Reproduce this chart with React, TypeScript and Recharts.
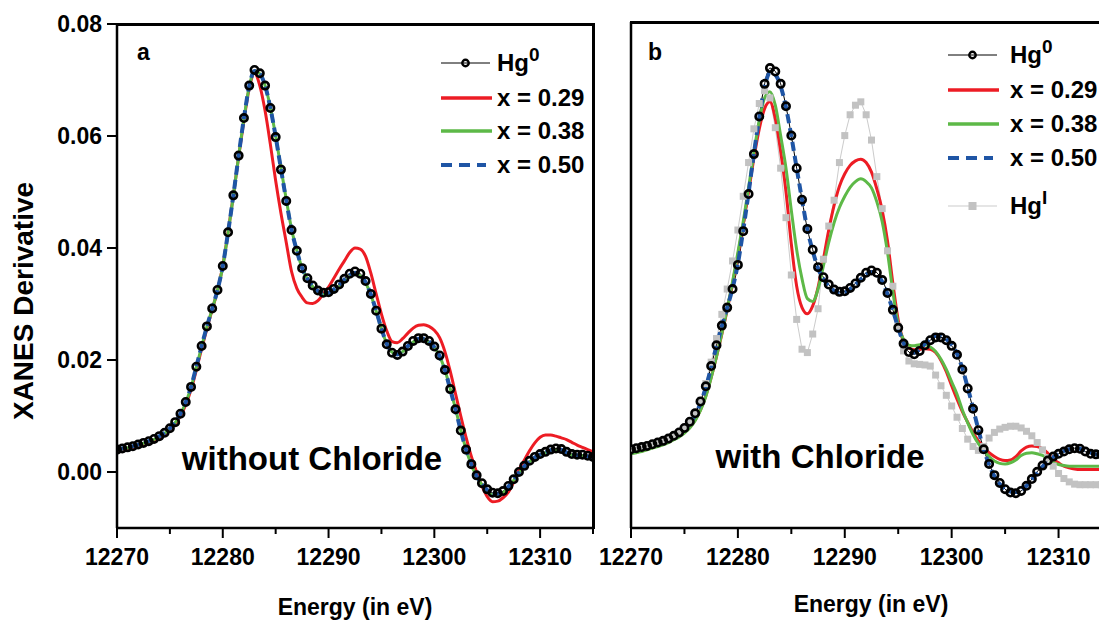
import { LineChart, Line, XAxis, YAxis, Customized } from 'recharts';

// energy grid (eV), 0.5 eV steps
const energy = [
  12270, 12270.5, 12271, 12271.5, 12272, 12272.5, 12273, 12273.5, 12274, 12274.5,
  12275, 12275.5, 12276, 12276.5, 12277, 12277.5, 12278, 12278.5, 12279, 12279.5,
  12280, 12280.5, 12281, 12281.5, 12282, 12282.5, 12283, 12283.5, 12284, 12284.5,
  12285, 12285.5, 12286, 12286.5, 12287, 12287.5, 12288, 12288.5, 12289, 12289.5,
  12290, 12290.5, 12291, 12291.5, 12292, 12292.5, 12293, 12293.5, 12294, 12294.5,
  12295, 12295.5, 12296, 12296.5, 12297, 12297.5, 12298, 12298.5, 12299, 12299.5,
  12300, 12300.5, 12301, 12301.5, 12302, 12302.5, 12303, 12303.5, 12304, 12304.5,
  12305, 12305.5, 12306, 12306.5, 12307, 12307.5, 12308, 12308.5, 12309, 12309.5,
  12310, 12310.5, 12311, 12311.5, 12312, 12312.5, 12313, 12313.5, 12314, 12314.5,
  12315,
];

// Hg0 reference spectrum (same in both panels)
const hg0 = [
  0.0040, 0.0042, 0.0044, 0.0046, 0.0049, 0.0052, 0.0055, 0.0059, 0.0064, 0.0070,
  0.0078, 0.0089, 0.0104, 0.0125, 0.0152, 0.0188, 0.0225, 0.0260, 0.0292, 0.0325,
  0.0368, 0.0428, 0.0494, 0.0565, 0.0632, 0.0690, 0.0718, 0.0712, 0.0690, 0.0650,
  0.0598, 0.0540, 0.0484, 0.0432, 0.0395, 0.0364, 0.0346, 0.0333, 0.0324, 0.0320,
  0.0321, 0.0327, 0.0335, 0.0345, 0.0354, 0.0358, 0.0354, 0.0341, 0.0318, 0.0288,
  0.0256, 0.0228, 0.0213, 0.0209, 0.0215, 0.0225, 0.0234, 0.0239, 0.0239, 0.0234,
  0.0224, 0.0208, 0.0182, 0.0148, 0.0112, 0.0074, 0.0040, 0.0014, -0.0006, -0.0020,
  -0.0031, -0.0037, -0.0038, -0.0034, -0.0025, -0.0013, 0.0000, 0.0011, 0.0020, 0.0027,
  0.0032, 0.0036, 0.0040, 0.0042, 0.0041, 0.0036, 0.0032, 0.0031, 0.0031, 0.0029,
  0.0027,
];

// panel a: without chloride
const aX029 = [
  0.0037, 0.0039, 0.0041, 0.0043, 0.0046, 0.0049, 0.0052, 0.0056, 0.0061, 0.0067,
  0.0075, 0.0086, 0.0100, 0.0120, 0.0147, 0.0182, 0.0220, 0.0256, 0.0290, 0.0324,
  0.0368, 0.0428, 0.0494, 0.0563, 0.0628, 0.0685, 0.0712, 0.0690, 0.0645, 0.0585,
  0.0520, 0.0462, 0.0410, 0.0358, 0.0328, 0.0312, 0.0302, 0.0301, 0.0306, 0.0318,
  0.0330, 0.0346, 0.0362, 0.0377, 0.0392, 0.0400, 0.0398, 0.0385, 0.0355, 0.0318,
  0.0282, 0.0252, 0.0233, 0.0231, 0.0238, 0.0248, 0.0257, 0.0262, 0.0263, 0.0260,
  0.0253, 0.0240, 0.0215, 0.0180, 0.0140, 0.0100, 0.0062, 0.0028, 0.0000, -0.0025,
  -0.0044, -0.0053, -0.0052, -0.0046, -0.0036, -0.0018, 0.0004, 0.0021, 0.0038, 0.0052,
  0.0062, 0.0066, 0.0066, 0.0064, 0.0061, 0.0058, 0.0053, 0.0048, 0.0044, 0.0040,
  0.0036,
];
const aX038 = [
  0.0039, 0.0041, 0.0043, 0.0045, 0.0048, 0.0051, 0.0054, 0.0058, 0.0063, 0.0069,
  0.0077, 0.0088, 0.0103, 0.0124, 0.0151, 0.0187, 0.0224, 0.0259, 0.0291, 0.0324,
  0.0367, 0.0427, 0.0493, 0.0564, 0.0631, 0.0688, 0.0716, 0.0711, 0.0690, 0.0651,
  0.0600, 0.0543, 0.0487, 0.0434, 0.0396, 0.0364, 0.0345, 0.0331, 0.0321, 0.0317,
  0.0317, 0.0322, 0.0330, 0.0340, 0.0349, 0.0353, 0.0350, 0.0338, 0.0316, 0.0287,
  0.0256, 0.0229, 0.0214, 0.0210, 0.0215, 0.0224, 0.0232, 0.0236, 0.0236, 0.0231,
  0.0222, 0.0207, 0.0182, 0.0149, 0.0113, 0.0075, 0.0040, 0.0013, -0.0008, -0.0023,
  -0.0035, -0.0041, -0.0042, -0.0037, -0.0027, -0.0015, -0.0002, 0.0009, 0.0018, 0.0025,
  0.0030, 0.0034, 0.0037, 0.0039, 0.0038, 0.0034, 0.0030, 0.0029, 0.0029, 0.0027,
  0.0025,
];
const aX050 = [
  0.0040, 0.0042, 0.0044, 0.0046, 0.0049, 0.0052, 0.0055, 0.0059, 0.0064, 0.0070,
  0.0078, 0.0089, 0.0104, 0.0125, 0.0152, 0.0188, 0.0225, 0.0260, 0.0292, 0.0325,
  0.0368, 0.0428, 0.0494, 0.0565, 0.0632, 0.0689, 0.0716, 0.0711, 0.0690, 0.0650,
  0.0599, 0.0541, 0.0485, 0.0433, 0.0395, 0.0364, 0.0345, 0.0332, 0.0323, 0.0319,
  0.0320, 0.0326, 0.0334, 0.0344, 0.0352, 0.0356, 0.0352, 0.0339, 0.0317, 0.0288,
  0.0256, 0.0229, 0.0214, 0.0210, 0.0216, 0.0225, 0.0233, 0.0238, 0.0238, 0.0233,
  0.0223, 0.0207, 0.0182, 0.0148, 0.0112, 0.0074, 0.0040, 0.0014, -0.0007, -0.0021,
  -0.0032, -0.0038, -0.0039, -0.0035, -0.0026, -0.0014, -0.0001, 0.0010, 0.0019, 0.0026,
  0.0031, 0.0035, 0.0039, 0.0041, 0.0040, 0.0035, 0.0031, 0.0030, 0.0030, 0.0028,
  0.0026,
];

// panel b: with chloride
const bX029 = [
  0.0033, 0.0035, 0.0037, 0.0040, 0.0043, 0.0046, 0.0049, 0.0053, 0.0058, 0.0063,
  0.0070, 0.0079, 0.0092, 0.0110, 0.0135, 0.0168, 0.0205, 0.0245, 0.0288, 0.0335,
  0.0385, 0.0440, 0.0498, 0.0558, 0.0610, 0.0646, 0.0658, 0.0628, 0.0570, 0.0498,
  0.0405, 0.0330, 0.0292, 0.0281, 0.0295, 0.0328, 0.0378, 0.0430, 0.0474, 0.0508,
  0.0530, 0.0545, 0.0553, 0.0556, 0.0550, 0.0533, 0.0503, 0.0465, 0.0410, 0.0335,
  0.0270, 0.0233, 0.0220, 0.0217, 0.0218, 0.0219, 0.0218, 0.0212, 0.0198, 0.0178,
  0.0153, 0.0129, 0.0107, 0.0088, 0.0070, 0.0055, 0.0044, 0.0034, 0.0027, 0.0022,
  0.0020, 0.0021, 0.0027, 0.0037, 0.0044, 0.0046, 0.0045, 0.0041, 0.0033, 0.0023,
  0.0016, 0.0010, 0.0007, 0.0005, 0.0004, 0.0004, 0.0004, 0.0004, 0.0004, 0.0004,
  0.0004,
];
const bX038 = [
  0.0032, 0.0034, 0.0036, 0.0039, 0.0042, 0.0045, 0.0048, 0.0052, 0.0057, 0.0062,
  0.0069, 0.0078, 0.0091, 0.0109, 0.0134, 0.0167, 0.0205, 0.0246, 0.0290, 0.0338,
  0.0390, 0.0445, 0.0505, 0.0568, 0.0625, 0.0665, 0.0676, 0.0652, 0.0598, 0.0540,
  0.0465, 0.0395, 0.0343, 0.0308, 0.0303, 0.0325, 0.0366, 0.0408, 0.0443, 0.0470,
  0.0490, 0.0506, 0.0516, 0.0521, 0.0516, 0.0505, 0.0480, 0.0445, 0.0390, 0.0320,
  0.0262, 0.0235, 0.0225, 0.0224, 0.0226, 0.0226, 0.0222, 0.0214, 0.0200, 0.0182,
  0.0160, 0.0138, 0.0110, 0.0087, 0.0066, 0.0050, 0.0038, 0.0027, 0.0019, 0.0015,
  0.0014, 0.0016, 0.0021, 0.0029, 0.0033, 0.0034, 0.0032, 0.0029, 0.0023, 0.0017,
  0.0013, 0.0011, 0.0010, 0.0010, 0.0010, 0.0010, 0.0010, 0.0010, 0.0010, 0.0010,
  0.0010,
];
const bX050 = [
  0.0036, 0.0038, 0.0040, 0.0043, 0.0046, 0.0049, 0.0052, 0.0056, 0.0061, 0.0067,
  0.0075, 0.0086, 0.0101, 0.0122, 0.0150, 0.0186, 0.0224, 0.0259, 0.0292, 0.0326,
  0.0370, 0.0430, 0.0496, 0.0566, 0.0630, 0.0684, 0.0710, 0.0706, 0.0686, 0.0648,
  0.0597, 0.0540, 0.0484, 0.0431, 0.0393, 0.0362, 0.0343, 0.0330, 0.0322, 0.0318,
  0.0319, 0.0325, 0.0333, 0.0342, 0.0351, 0.0355, 0.0351, 0.0338, 0.0316, 0.0287,
  0.0256, 0.0229, 0.0215, 0.0212, 0.0218, 0.0228, 0.0237, 0.0242, 0.0241, 0.0236,
  0.0226, 0.0210, 0.0184, 0.0150, 0.0113, 0.0075, 0.0040, 0.0013, -0.0008, -0.0022,
  -0.0031, -0.0035, -0.0036, -0.0033, -0.0025, -0.0014, -0.0002, 0.0009, 0.0018, 0.0026,
  0.0032, 0.0037, 0.0040, 0.0042, 0.0041, 0.0038, 0.0034, 0.0031, 0.0030, 0.0029,
  0.0029,
];
const hgI = [
  0.0040, 0.0042, 0.0044, 0.0046, 0.0049, 0.0052, 0.0055, 0.0059, 0.0064, 0.0070,
  0.0078, 0.0089, 0.0105, 0.0127, 0.0157, 0.0195, 0.0237, 0.0280, 0.0325, 0.0375,
  0.0430, 0.0490, 0.0550, 0.0610, 0.0655, 0.0678, 0.0665, 0.0612, 0.0540, 0.0452,
  0.0350, 0.0271, 0.0218, 0.0212, 0.0245, 0.0290, 0.0378, 0.0437, 0.0483, 0.0550,
  0.0598, 0.0635, 0.0652, 0.0658, 0.0635, 0.0590, 0.0525, 0.0468, 0.0393, 0.0330,
  0.0259, 0.0215, 0.0197, 0.0192, 0.0191, 0.0190, 0.0188, 0.0172, 0.0153, 0.0136,
  0.0117, 0.0097, 0.0077, 0.0058, 0.0045, 0.0038, 0.0045, 0.0060, 0.0070, 0.0076,
  0.0079, 0.0081, 0.0081, 0.0078, 0.0072, 0.0064, 0.0052, 0.0039, 0.0025, 0.0010,
  -0.0003, -0.0012, -0.0018, -0.0022, -0.0023, -0.0023, -0.0023, -0.0023, -0.0023, -0.0022,
  -0.0022,
];

const xTicks = [12270, 12275, 12280, 12285, 12290, 12295, 12300, 12305, 12310, 12315];
const yTicks = [0, 0.02, 0.04, 0.06, 0.08];

const rowsA = energy.map((e, i) => ({ e, hg0: hg0[i], x29: aX029[i], x38: aX038[i], x50: aX050[i] }));
const rowsB = energy.map((e, i) => ({ e, hg0: hg0[i], hgI: hgI[i], x29: bX029[i], x38: bX038[i], x50: bX050[i] }));

const RED = '#ed1c24';
const GREEN = '#5db947';
const BLUE = '#1f55a5';
const GREY_DOT = '#c2c2c2';
const GREY_LINE = '#cbcbcb';
const FONT = '"Liberation Sans", Arial, sans-serif';
const AXIS = { stroke: '#000', strokeWidth: 2.5 };

// major ticks every 10 eV with a label, minor ticks at the 5s
function EnergyTick({ x, y, payload }: any) {
  const major = payload.value % 10 === 0;
  return (
    <g>
      <line x1={x} x2={x} y1={y} y2={y + (major ? 10 : 6)} stroke="#000" strokeWidth={2} />
      {major && (
        <text x={x} y={y + 37} textAnchor="middle" fontSize={23} fontWeight={700} fill="#000" fontFamily={FONT}>
          {payload.value}
        </text>
      )}
    </g>
  );
}

type Entry = { kind: 'hg0' | 'line' | 'dash' | 'hgI'; color: string; label: string; sup?: string; y: number };

function LegendBlock({ x0, x1, tx, entries }: { x0: number; x1: number; tx: number; entries: Entry[] }) {
  const mid = (x0 + x1) / 2;
  return (
    <g fontFamily={FONT} fontWeight={700} fill="#000">
      {entries.map((en) => (
        <g key={en.label + en.y}>
          {en.kind === 'hg0' && (
            <>
              <line x1={x0} x2={x1} y1={en.y} y2={en.y} stroke="#000" strokeWidth={1} />
              <circle cx={mid} cy={en.y} r={3.2} fill="none" stroke="#000" strokeWidth={2.4} />
            </>
          )}
          {en.kind === 'hgI' && (
            <>
              <line x1={x0} x2={x1} y1={en.y} y2={en.y} stroke={GREY_LINE} strokeWidth={1} />
              <rect x={mid - 4} y={en.y - 4} width={8} height={8} fill={GREY_DOT} />
            </>
          )}
          {en.kind === 'line' && (
            <line x1={x0} x2={x1 + 2} y1={en.y} y2={en.y} stroke={en.color} strokeWidth={3.5} />
          )}
          {en.kind === 'dash' && (
            <line x1={x0} x2={x1 - 4} y1={en.y} y2={en.y} stroke={en.color} strokeWidth={4} strokeDasharray="11 7" />
          )}
          <text x={tx} y={en.y + 8} fontSize={24}>
            {en.label}
            {en.sup && (
              <tspan dy={-10} fontSize={19}>
                {en.sup}
              </tspan>
            )}
          </text>
        </g>
      ))}
    </g>
  );
}

function NotesA() {
  return (
    <g fontFamily={FONT} fontWeight={700} fill="#000">
      <text x={137} y={60} fontSize={23}>a</text>
      <LegendBlock
        x0={441}
        x1={490}
        tx={497}
        entries={[
          { kind: 'hg0', color: '#000', label: 'Hg', sup: '0', y: 63 },
          { kind: 'line', color: RED, label: 'x = 0.29', y: 98 },
          { kind: 'line', color: GREEN, label: 'x = 0.38', y: 131 },
          { kind: 'dash', color: BLUE, label: 'x = 0.50', y: 165 },
        ]}
      />
      <text x={312} y={470} fontSize={33} textAnchor="middle">without Chloride</text>
      <text x={355} y={615} fontSize={23} textAnchor="middle">Energy (in eV)</text>
      <text
        x={23}
        y={301}
        fontSize={28}
        textAnchor="middle"
        dominantBaseline="central"
        transform="rotate(-90 23 301)"
      >
        XANES Derivative
      </text>
    </g>
  );
}

// panel b chart starts at page x = 580
function NotesB() {
  return (
    <g fontFamily={FONT} fontWeight={700} fill="#000">
      <text x={68} y={60} fontSize={23}>b</text>
      <LegendBlock
        x0={368}
        x1={417}
        tx={430}
        entries={[
          { kind: 'hg0', color: '#000', label: 'Hg', sup: '0', y: 55 },
          { kind: 'line', color: RED, label: 'x = 0.29', y: 90 },
          { kind: 'line', color: GREEN, label: 'x = 0.38', y: 124 },
          { kind: 'dash', color: BLUE, label: 'x = 0.50', y: 158 },
          { kind: 'hgI', color: GREY_DOT, label: 'Hg', sup: 'I', y: 206 },
        ]}
      />
      <text x={240} y={468} fontSize={33} textAnchor="middle">with Chloride</text>
      <text x={291} y={612} fontSize={23} textAnchor="middle">Energy (in eV)</text>
    </g>
  );
}

const SquareDot = (p: any) => {
  if (p.cx == null || p.cy == null) return <g key={`sq-${p.index}`} />;
  return <rect key={`sq-${p.index}`} x={p.cx - 3.5} y={p.cy - 3.5} width={7} height={7} fill={GREY_DOT} />;
};

// open circles so the fitted curves stay visible through them
const hg0Dot = { r: 3.7, fill: 'none', stroke: '#000', strokeWidth: 2.6 };

// closing edges of the plot boxes (page px), matching the chart margins + axis sizes
const edges = [
  { left: 116, top: 23, width: 479, height: 3 },
  { left: 592, top: 23, width: 3, height: 506 },
  { left: 630, top: 21, width: 469, height: 3 },
];

export default function App() {
  return (
    <div
      style={{
        position: 'absolute',
        left: 0,
        top: 0,
        width: 1099,
        height: 621,
        overflow: 'hidden',
        background: '#fff',
        fontFamily: FONT,
      }}
    >
      <div style={{ position: 'absolute', left: 0, top: 0 }}>
        <LineChart width={600} height={621} data={rowsA} margin={{ top: 24, right: 7, bottom: 53, left: 57 }}>
          <XAxis
            dataKey="e"
            type="number"
            domain={[12270, 12315]}
            ticks={xTicks}
            interval={0}
            tick={<EnergyTick />}
            tickSize={0}
            tickMargin={0}
            tickLine={false}
            height={40}
            axisLine={AXIS}
            allowDataOverflow
          />
          <YAxis
            type="number"
            domain={[-0.01, 0.08]}
            ticks={yTicks}
            interval={0}
            width={60}
            tickSize={10}
            tickMargin={5}
            tickFormatter={(v: number) => v.toFixed(2)}
            tick={{ fontSize: 23, fontWeight: 700, fill: '#000', fontFamily: FONT }}
            tickLine={{ stroke: '#000', strokeWidth: 2 }}
            axisLine={AXIS}
            allowDataOverflow
          />
          <Line dataKey="hg0" type="monotone" stroke="#000" strokeWidth={1} dot={hg0Dot} activeDot={false} isAnimationActive={false} />
          <Line dataKey="x29" type="monotone" stroke={RED} strokeWidth={3} dot={false} activeDot={false} isAnimationActive={false} />
          <Line dataKey="x38" type="monotone" stroke={GREEN} strokeWidth={3} dot={false} activeDot={false} isAnimationActive={false} />
          <Line dataKey="x50" type="monotone" stroke={BLUE} strokeWidth={4} strokeDasharray="9 5" dot={false} activeDot={false} isAnimationActive={false} />
          <Customized component={NotesA} />
        </LineChart>
      </div>

      <div style={{ position: 'absolute', left: 580, top: 0 }}>
        <LineChart width={540} height={621} data={rowsB} margin={{ top: 22, right: 8, bottom: 53, left: 50 }}>
          <XAxis
            dataKey="e"
            type="number"
            domain={[12270, 12315]}
            ticks={xTicks}
            interval={0}
            tick={<EnergyTick />}
            tickSize={0}
            tickMargin={0}
            tickLine={false}
            height={40}
            axisLine={AXIS}
            allowDataOverflow
          />
          <YAxis
            type="number"
            domain={[-0.01, 0.08]}
            width={1}
            tick={false}
            tickLine={false}
            axisLine={AXIS}
            allowDataOverflow
          />
          <Line dataKey="hgI" type="linear" stroke={GREY_LINE} strokeWidth={1} dot={SquareDot} activeDot={false} isAnimationActive={false} />
          <Line dataKey="hg0" type="monotone" stroke="#000" strokeWidth={1} dot={hg0Dot} activeDot={false} isAnimationActive={false} />
          <Line dataKey="x29" type="monotone" stroke={RED} strokeWidth={3} dot={false} activeDot={false} isAnimationActive={false} />
          <Line dataKey="x38" type="monotone" stroke={GREEN} strokeWidth={3} dot={false} activeDot={false} isAnimationActive={false} />
          <Line dataKey="x50" type="monotone" stroke={BLUE} strokeWidth={4} strokeDasharray="9 5" dot={false} activeDot={false} isAnimationActive={false} />
          <Customized component={NotesB} />
        </LineChart>
      </div>

      {/* frame edges laid over the charts */}
      {edges.map((r, i) => (
        <div
          key={i}
          style={{
            position: 'absolute',
            left: r.left,
            top: r.top,
            width: r.width,
            height: r.height,
            background: '#000',
            pointerEvents: 'none',
          }}
        />
      ))}
    </div>
  );
}
